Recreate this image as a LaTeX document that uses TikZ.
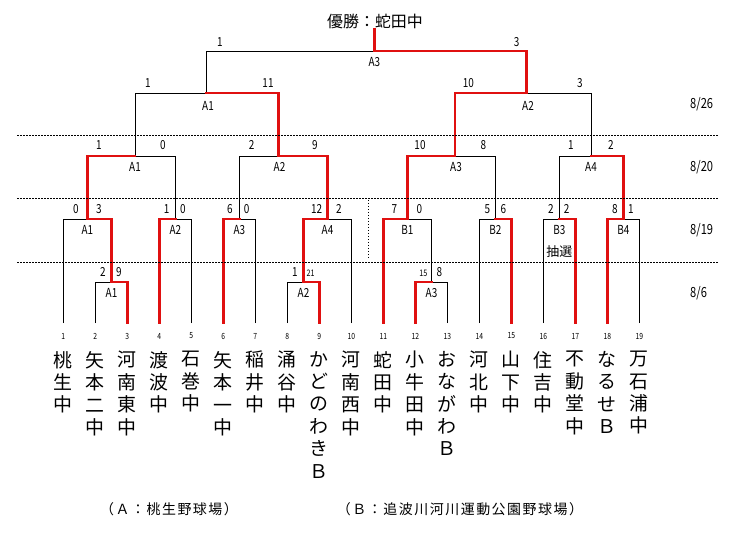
\documentclass[tikz,border=0pt]{standalone}
\usepackage{fontspec}
\setmainfont{Noto Sans CJK JP}
\newfontfamily\numfont[FakeStretch=0.8]{Noto Sans CJK JP}
\newfontfamily\capfont[LetterSpace=11]{Noto Sans CJK JP}
\usetikzlibrary{calc}
\definecolor{winred}{HTML}{E01010}
\tikzset{
  lose/.style={draw=black,line width=0.8bp},
  win/.style={draw=winred,line width=2.6bp,line cap=rect},
  score/.style={font=\numfont\fontsize{12.5}{12.5}\selectfont,inner sep=0pt},
  tinyscore/.style={font=\numfont\fontsize{9}{9}\selectfont,inner sep=0pt},
  game/.style={font=\numfont\fontsize{12.5}{12.5}\selectfont,inner sep=0pt},
  daylabel/.style={font=\numfont\fontsize{14}{14}\selectfont,anchor=west,inner sep=0pt},
  teamno/.style={font=\numfont\fontsize{8.5}{8.5}\selectfont,inner sep=0pt},
  school/.style={font=\fontsize{19}{22.5}\selectfont,align=center,anchor=north,inner sep=0pt},
  daysep/.style={draw=black,line width=0.6bp,dash pattern=on 1.5bp off 1.5bp},
  caption/.style={font=\capfont\fontsize{14}{14}\selectfont,inner sep=0pt}
}
\begin{document}
\begin{tikzpicture}[x=1bp,y=-1bp]
  \path[use as bounding box,fill=white] (0,0) rectangle (747,548);

  \node[font=\fontsize{16}{16}\selectfont,inner sep=1bp] (title) at (375,21) {優勝：蛇田中};

  % schools
  \foreach \i/\nm in {1/{桃\\生\\中},2/{矢\\本\\二\\中},3/{河\\南\\東\\中},4/{渡\\波\\中},
      5/{石\\巻\\中},6/{矢\\本\\一\\中},7/{稲\\井\\中},8/{涌\\谷\\中},9/{か\\ど\\の\\わ\\き\\Ｂ},
      10/{河\\南\\西\\中},11/{蛇\\田\\中},12/{小\\牛\\田\\中},13/{お\\な\\が\\わ\\Ｂ},
      14/{河\\北\\中},15/{山\\下\\中},16/{住\\吉\\中},17/{不\\動\\堂\\中},18/{な\\る\\せ\\Ｂ},
      19/{万\\石\\浦\\中}}{
    \pgfmathsetmacro\x{63.3+32*(\i-1)}
    \coordinate (l\i) at (\x,323);
    \node[teamno] (no\i) at (\x,336) {\i};
    \node[school] (nm\i) at (\x,351) {\nm};
  }

  % games
  \coordinate (r1a1) at (111.3,282);
  \coordinate (r1a2) at (303.3,282);
  \coordinate (r1a3) at (431.3,282);
  \coordinate (r2a1) at (87.3,219);
  \coordinate (r2a2) at (175.3,219);
  \coordinate (r2a3) at (239.3,219);
  \coordinate (r2a4) at (327.3,219);
  \coordinate (r2b1) at (407.3,219);
  \coordinate (r2b2) at (495.3,219);
  \coordinate (r2b3) at (559.3,219);
  \coordinate (r2b4) at (623.3,219);
  \coordinate (r3a1) at (135,156);
  \coordinate (r3a2) at (278.3,156);
  \coordinate (r3a3) at (455,156);
  \coordinate (r3a4) at (591,156);
  \coordinate (r4a1) at (206.7,93);
  \coordinate (r4a2) at (526.7,93);
  \coordinate (fin) at (374.3,51);

  \draw[lose] (l2) |- (r1a1) (l8) |- (r1a2) (l13) |- (r1a3)
    (l1) |- (r2a1) (l5) |- (r2a2) (l7) |- (r2a3) (l10) |- (r2a4)
    (r1a3) |- (r2b1) (l14) |- (r2b2) (l16) |- (r2b3) (l19) |- (r2b4)
    (r2a2) |- (r3a1) (r2a3) |- (r3a2) (r2b2) |- (r3a3) (r2b3) |- (r3a4)
    (r3a1) |- (r4a1) (r3a4) |- (r4a2)
    (r4a1) |- (fin);
  \draw[win] (l3) |- (r1a1) (l9) |- (r1a2) (l12) |- (r1a3)
    (r1a1) |- (r2a1) (l4) |- (r2a2) (l6) |- (r2a3) (r1a2) |- (r2a4)
    (l11) |- (r2b1) (l15) |- (r2b2) (l17) |- (r2b3) (l18) |- (r2b4)
    (r2a1) |- (r3a1) (r2a4) |- (r3a2) (r2b1) |- (r3a3) (r2b4) |- (r3a4)
    (r3a2) |- (r4a1) (r3a3) |- (r4a2)
    (r4a2) |- (fin) (fin) -- (fin |- title.south);

  % game names
  \node[game] (g1a1) at (111.5,293) {A1};
  \node[game] (g1a2) at (303.5,293) {A2};
  \node[game] (g1a3) at (431.5,293) {A3};
  \node[game] (g2a1) at (87.3,230) {A1};
  \node[game] (g2a2) at (175.3,230) {A2};
  \node[game] (g2a3) at (239.3,230) {A3};
  \node[game] (g2a4) at (327.5,230) {A4};
  \node[game] (g2b1) at (407.3,230) {B1};
  \node[game] (g2b2) at (495.3,230) {B2};
  \node[game] (g2b3) at (559.3,230) {B3};
  \node[font=\fontsize{13}{13}\selectfont,inner sep=0pt] (lot) at (559.3,252) {抽選};
  \node[game] (g2b4) at (623.3,230) {B4};
  \node[game] (g3a1) at (135,167) {A1};
  \node[game] (g3a2) at (279.5,167) {A2};
  \node[game] (g3a3) at (456,167) {A3};
  \node[game] (g3a4) at (591,167) {A4};
  \node[game] (g4a1) at (208,106) {A1};
  \node[game] (g4a2) at (528,106) {A2};
  \node[game] (gfin) at (374.3,62) {A3};

  % scores
  \node[score] (s1a1l) at (103,272) {2};
  \node[score] (s1a1r) at (119,272) {9};
  \node[score] (s1a2l) at (295,272) {1};
  \node[tinyscore] (s1a2r) at (310.7,273) {21};
  \node[tinyscore] (s1a3l) at (423.3,273) {15};
  \node[score] (s1a3r) at (439.3,272) {8};
  \node[score] (s2a1l) at (76,209) {0};
  \node[score] (s2a1r) at (99,209) {3};
  \node[score] (s2a2l) at (166.7,209) {1};
  \node[score] (s2a2r) at (183,209) {0};
  \node[score] (s2a3l) at (230,209) {6};
  \node[score] (s2a3r) at (246.7,209) {0};
  \node[score] (s2a4l) at (316.7,209) {12};
  \node[score] (s2a4r) at (339,209) {2};
  \node[score] (s2b1l) at (394.3,209) {7};
  \node[score] (s2b1r) at (419.3,209) {0};
  \node[score] (s2b2l) at (487.3,209) {5};
  \node[score] (s2b2r) at (503.3,209) {6};
  \node[score] (s2b3l) at (551,209) {2};
  \node[score] (s2b3r) at (566.7,209) {2};
  \node[score] (s2b4l) at (615,209) {8};
  \node[score] (s2b4r) at (631,209) {1};
  \node[score] (s3a1l) at (99,145) {1};
  \node[score] (s3a1r) at (163,145) {0};
  \node[score] (s3a2l) at (251.7,145) {2};
  \node[score] (s3a2r) at (315,145) {9};
  \node[score] (s3a3l) at (420,145) {10};
  \node[score] (s3a3r) at (483.3,145) {8};
  \node[score] (s3a4l) at (571,145) {1};
  \node[score] (s3a4r) at (611,145) {2};
  \node[score] (s4a1l) at (148,83) {1};
  \node[score] (s4a1r) at (268,83) {11};
  \node[score] (s4a2l) at (468.3,83) {10};
  \node[score] (s4a2r) at (580,83) {3};
  \node[score] (sfinl) at (220,42) {1};
  \node[score] (sfinr) at (516.7,42) {3};

  % days
  \draw[daysep] (17,135) -- (718,135);
  \draw[daysep] (17,198) -- (718,198);
  \draw[daysep] (17,262) -- (718,262);
  \draw[daysep] (368.3,200) -- (368.3,259);
  \node[daylabel] (d26) at (690,104) {8/26};
  \node[daylabel] (d20) at (690,167) {8/20};
  \node[daylabel] (d19) at (690,230) {8/19};
  \node[daylabel] (d06) at (690,293) {8/6};

  \node[caption] (fieldA) at (169,509) {（Ａ：桃生野球場）};
  \node[caption] (fieldB) at (460,509) {（Ｂ：追波川河川運動公園野球場）};
\end{tikzpicture}
\end{document}
